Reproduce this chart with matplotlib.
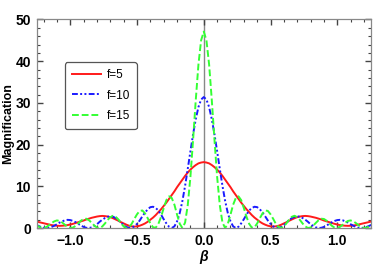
import matplotlib.pyplot as plt
import numpy as np
from matplotlib.ticker import MultipleLocator, FuncFormatter

# beta grid (positive half, curves are symmetric about beta = 0)
beta_half = np.linspace(0, 1.26, 64)

# magnification, f = 5
mag_f5 = [15.8, 15.7, 15.5, 15.1, 14.6, 14.0, 13.3, 12.5, 11.6, 10.7,
          9.8, 8.8, 7.9, 7.0, 6.1, 5.3, 4.5, 3.8, 3.1, 2.5,
          2.0, 1.5, 1.1, 0.8, 0.55, 0.4, 0.35, 0.4, 0.55, 0.8,
          1.1, 1.4, 1.75, 2.05, 2.35, 2.6, 2.75, 2.85, 2.9, 2.85,
          2.75, 2.6, 2.45, 2.25, 2.05, 1.8, 1.6, 1.4, 1.2, 1.0,
          0.85, 0.7, 0.6, 0.55, 0.52, 0.55, 0.6, 0.7, 0.85, 1.0,
          1.15, 1.3, 1.45, 1.6]
# f = 10
mag_f10 = [31.4, 30.8, 29.0, 26.1, 22.5, 18.4, 14.2, 10.1, 6.5, 3.6,
           1.6, 0.4, 0.0, 0.3, 1.1, 2.1, 3.2, 4.2, 4.8, 5.1,
           5.0, 4.5, 3.7, 2.8, 1.8, 1.0, 0.4, 0.05, 0.02, 0.26,
           0.7, 1.3, 1.9, 2.4, 2.7, 2.8, 2.7, 2.4, 2.0, 1.5,
           0.9, 0.5, 0.15, 0.01, 0.05, 0.26, 0.6, 1.0, 1.4, 1.7,
           1.9, 1.96, 1.86, 1.6, 1.3, 0.9, 0.56, 0.26, 0.06, 0.0,
           0.07, 0.26, 0.53, 0.83]
# f = 15
mag_f15 = [47.1, 45.0, 39.2, 30.7, 21.2, 12.3, 5.5, 1.3, 0.0, 1.0,
           3.2, 5.6, 7.2, 7.6, 6.7, 4.8, 2.7, 1.0, 0.08, 0.17,
           1.1, 2.35, 3.5, 4.2, 4.1, 3.3, 2.2, 1.0, 0.23, 0.01,
           0.38, 1.16, 2.06, 2.7, 2.94, 2.6, 1.95, 1.1, 0.38, 0.02,
           0.11, 0.58, 1.25, 1.87, 2.23, 2.17, 1.76, 1.14, 0.52, 0.1,
           0.01, 0.27, 0.76, 1.3, 1.7, 1.82, 1.6, 1.18, 0.66, 0.22,
           0.01, 0.09, 0.42, 0.89]

labels = ['f=5', 'f=10', 'f=15']
colors = ['#ff1a1a', '#1a1aff', '#33ff33']
styles = ['-', (0, (3, 1.2, 1, 1.2, 1, 1.2)), (0, (3.5, 1.5))]


def mirror(x, y):
    x = np.asarray(x)
    y = np.asarray(y)
    return np.r_[-x[:0:-1], x], np.r_[y[:0:-1], y]


plt.rcParams['font.family'] = ['Liberation Sans', 'DejaVu Sans']

fig = plt.figure(figsize=(3.74, 2.67), dpi=100)
ax = fig.add_axes([0.098, 0.146, 0.893, 0.781])

ax.axvline(0, color='#888888', lw=1.0, zorder=1)
for ys, lab, c, ls in zip([mag_f5, mag_f10, mag_f15], labels, colors, styles):
    bx, by = mirror(beta_half, ys)
    ax.plot(bx, by, color=c, ls=ls, lw=1.4, label=lab, zorder=2)

ax.set_xlim(-1.252, 1.25)
ax.set_ylim(0, 50)

ax.xaxis.set_major_locator(MultipleLocator(0.5))
ax.xaxis.set_minor_locator(MultipleLocator(0.1))
ax.yaxis.set_major_locator(MultipleLocator(10))
ax.yaxis.set_minor_locator(MultipleLocator(2))
ax.xaxis.set_major_formatter(FuncFormatter(lambda v, p: ('%.1f' % v).replace('-', '\u2212')))

ax.tick_params(which='both', direction='in', top=True, right=True,
               color='#444444', labelsize=10, pad=4)
ax.tick_params(which='major', length=4, width=1.0)
ax.tick_params(which='minor', length=2, width=0.8)
for t in ax.get_xticklabels() + ax.get_yticklabels():
    t.set_fontweight('bold')
for s in ax.spines.values():
    s.set_color('#888888')
    s.set_linewidth(0.9)

ax.set_xlabel('\u03b2', fontsize=10, fontweight='bold', style='italic')
ax.xaxis.set_label_coords(0.5, -0.105)
ax.set_ylabel('Magnification', fontsize=9, fontweight='bold')
ax.yaxis.set_label_coords(-0.068, 0.5)

leg = ax.legend(loc='upper left', bbox_to_anchor=(0.085, 0.795), fontsize=8.5,
                handlelength=2.5, labelspacing=0.75, borderpad=0.55,
                handletextpad=0.5, borderaxespad=0, fancybox=True, framealpha=1)
leg.get_frame().set_edgecolor('#555555')
leg.get_frame().set_linewidth(0.9)

fig.savefig('out.png', dpi=100)
